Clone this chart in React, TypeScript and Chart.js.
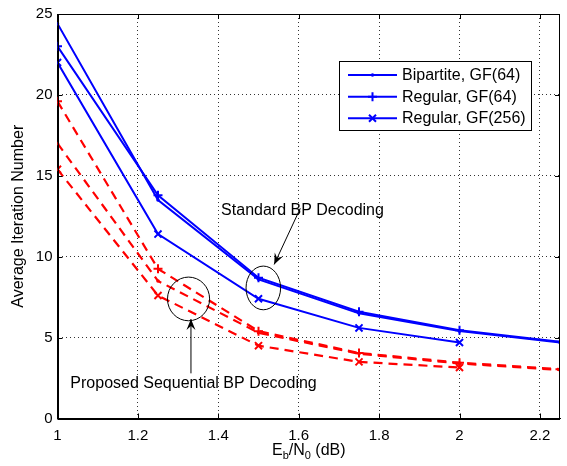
import React, { useEffect, useRef } from "react";
import { Chart, registerables } from "chart.js";

Chart.register(...registerables);

// ---- data ----
const snr = [1, 1.25, 1.5, 1.75, 2, 2.25];
const snrTicks = [1, 1.2, 1.4, 1.6, 1.8, 2, 2.2];
const iterTicks = [0, 5, 10, 15, 20, 25];

const stdBipartite64 = [24.4, 13.5, 8.6, 6.5, 5.4, 4.7];
const stdRegular64 = [23.0, 13.8, 8.7, 6.6, 5.45, 4.75];
const stdRegular256 = [22.0, 11.4, 7.4, 5.6, 4.7];

const seqBipartite64 = [17.0, 8.5, 5.3, 4.0, 3.4, 3.0];
const seqRegular64 = [19.6, 9.25, 5.4, 4.05, 3.45, 3.05];
const seqRegular256 = [15.4, 7.6, 4.5, 3.5, 3.15];

const legendLabels = ["Bipartite, GF(64)", "Regular, GF(64)", "Regular, GF(256)"];
const standardLabel = "Standard BP Decoding";
const proposedLabel = "Proposed Sequential BP Decoding";
const yTitle = "Average Iteration Number";

const FONT = "'Liberation Sans', Arial, Helvetica, sans-serif";
const BLUE = "#0000ff";
const RED = "#ff0000";

const pts = (arr: number[]) => arr.map((y, i) => ({ x: snr[i], y }));

function drawMarker(ctx: CanvasRenderingContext2D, style: string, x: number, y: number, color: string) {
  ctx.save();
  ctx.strokeStyle = color;
  ctx.fillStyle = color;
  ctx.lineWidth = 2;
  ctx.beginPath();
  if (style === "cross") {
    ctx.moveTo(x - 4.5, y);
    ctx.lineTo(x + 4.5, y);
    ctx.moveTo(x, y - 4.5);
    ctx.lineTo(x, y + 4.5);
    ctx.stroke();
  } else if (style === "crossRot") {
    const d = 3.5;
    ctx.moveTo(x - d, y - d);
    ctx.lineTo(x + d, y + d);
    ctx.moveTo(x - d, y + d);
    ctx.lineTo(x + d, y - d);
    ctx.stroke();
  } else {
    ctx.arc(x, y, 1.8, 0, Math.PI * 2);
    ctx.fill();
  }
  ctx.restore();
}

function arrow(ctx: CanvasRenderingContext2D, x1: number, y1: number, x2: number, y2: number) {
  ctx.beginPath();
  ctx.moveTo(x1, y1);
  ctx.lineTo(x2, y2);
  ctx.stroke();
  const ang = Math.atan2(y2 - y1, x2 - x1);
  const L = 11, W = 4.5, notch = 7;
  const bx = x2 - Math.cos(ang) * L, by = y2 - Math.sin(ang) * L;
  const nx = x2 - Math.cos(ang) * notch, ny = y2 - Math.sin(ang) * notch;
  const px = -Math.sin(ang), py = Math.cos(ang);
  ctx.beginPath();
  ctx.moveTo(x2, y2);
  ctx.lineTo(bx + px * W, by + py * W);
  ctx.lineTo(nx, ny);
  ctx.lineTo(bx - px * W, by - py * W);
  ctx.closePath();
  ctx.fill();
}

const decorPlugin = {
  id: "decor",
  afterDraw(chart: any) {
    const { ctx, chartArea: a, scales } = chart;
    const xs = scales.x, ys = scales.y;
    const X = (v: number) => xs.getPixelForValue(v);
    const Y = (v: number) => ys.getPixelForValue(v);
    ctx.save();
    ctx.strokeStyle = "#000";
    ctx.fillStyle = "#000";
    ctx.lineWidth = 1;

    // inner ticks
    ctx.beginPath();
    snrTicks.forEach((v) => {
      const p = Math.round(X(v)) + 0.5;
      ctx.moveTo(p, a.bottom);
      ctx.lineTo(p, a.bottom - 5);
      ctx.moveTo(p, a.top);
      ctx.lineTo(p, a.top + 5);
    });
    iterTicks.forEach((v) => {
      const p = Math.round(Y(v)) + 0.5;
      ctx.moveTo(a.left, p);
      ctx.lineTo(a.left + 5, p);
      ctx.moveTo(a.right, p);
      ctx.lineTo(a.right - 5, p);
    });
    ctx.stroke();

    // box
    const l = Math.round(a.left) + 0.5, t = Math.round(a.top) + 0.5;
    const r = Math.round(a.right) - 0.5, b = Math.round(a.bottom) + 0.5;
    ctx.strokeRect(l, t, r - l, b - t);

    // ellipses
    ctx.beginPath();
    ctx.ellipse(X(1.326), Y(7.39), X(1.326 + 0.0524) - X(1.326), Y(7.39) - Y(7.39 + 1.35), 0, 0, Math.PI * 2);
    ctx.stroke();
    ctx.beginPath();
    ctx.ellipse(X(1.512), Y(8.07), X(1.512 + 0.043) - X(1.512), Y(8.07) - Y(8.07 + 1.35), 0, 0, Math.PI * 2);
    ctx.stroke();

    // arrows
    arrow(ctx, X(1.332), Y(2.79), X(1.332), Y(6.15));
    arrow(ctx, X(1.604), Y(12.99), X(1.539), Y(9.52));

    // annotation texts
    ctx.font = `16px ${FONT}`;
    ctx.textBaseline = "middle";
    ctx.textAlign = "left";
    ctx.fillText(standardLabel, X(1.407), Y(12.83));
    ctx.fillText(proposedLabel, X(1.032), Y(2.18));

    // legend
    const lx = 339.5, ly = 61.5, lw = 192, lh = 69;
    ctx.fillStyle = "#fff";
    ctx.fillRect(lx, ly, lw, lh);
    ctx.strokeStyle = "#000";
    ctx.strokeRect(lx, ly, lw, lh);
    const rows = [75, 96.7, 118.3];
    const styles = ["circle", "cross", "crossRot"];
    rows.forEach((ry, i) => {
      ctx.strokeStyle = BLUE;
      ctx.lineWidth = 2;
      ctx.beginPath();
      ctx.moveTo(348, ry);
      ctx.lineTo(397, ry);
      ctx.stroke();
      drawMarker(ctx, styles[i], 372.5, ry, BLUE);
      ctx.fillStyle = "#000";
      ctx.font = `16px ${FONT}`;
      ctx.fillText(legendLabels[i], 402, ry + 0.5);
    });

    // x title  E_b/N_0 (dB)
    const big = `16px ${FONT}`, small = `11px ${FONT}`;
    const parts: [string, boolean][] = [["E", false], ["b", true], ["/N", false], ["0", true], [" (dB)", false]];
    let total = 0;
    parts.forEach(([s, sub]) => {
      ctx.font = sub ? small : big;
      total += ctx.measureText(s).width;
    });
    let cx = (a.left + a.right) / 2 - total / 2;
    const base = 455;
    ctx.textBaseline = "alphabetic";
    ctx.fillStyle = "#000";
    parts.forEach(([s, sub]) => {
      ctx.font = sub ? small : big;
      ctx.fillText(s, cx, sub ? base + 4 : base);
      cx += ctx.measureText(s).width;
    });

    // y title
    ctx.save();
    ctx.translate(19, (a.top + a.bottom) / 2);
    ctx.rotate(-Math.PI / 2);
    ctx.font = big;
    ctx.textAlign = "center";
    ctx.textBaseline = "middle";
    ctx.fillText(yTitle, 0, 0);
    ctx.restore();

    ctx.restore();
  },
};

export default function App() {
  const ref = useRef<HTMLCanvasElement>(null);
  useEffect(() => {
    document.body.style.margin = "0";
    const blueBase = { borderColor: BLUE, backgroundColor: BLUE, pointBorderColor: BLUE, pointBackgroundColor: BLUE, borderWidth: 2, pointBorderWidth: 2, tension: 0, fill: false };
    const redBase = { borderColor: RED, backgroundColor: RED, pointBorderColor: RED, pointBackgroundColor: RED, borderWidth: 2.2, pointBorderWidth: 2, tension: 0, fill: false, borderDash: [9, 6] };
    const chart = new Chart(ref.current as HTMLCanvasElement, {
      type: "line",
      data: {
        datasets: [
          { ...blueBase, label: "Standard Bipartite GF(64)", data: pts(stdBipartite64), pointStyle: "circle", pointRadius: 1.8, pointBorderWidth: 0 },
          { ...blueBase, label: "Standard Regular GF(64)", data: pts(stdRegular64), pointStyle: "cross", pointRadius: 4.5 },
          { ...blueBase, label: "Standard Regular GF(256)", data: pts(stdRegular256), pointStyle: "crossRot", pointRadius: 5 },
          { ...redBase, label: "Sequential Bipartite GF(64)", data: pts(seqBipartite64), pointStyle: "circle", pointRadius: 1.8, pointBorderWidth: 0 },
          { ...redBase, label: "Sequential Regular GF(64)", data: pts(seqRegular64), pointStyle: "cross", pointRadius: 4.5 },
          { ...redBase, label: "Sequential Regular GF(256)", data: pts(seqRegular256), pointStyle: "crossRot", pointRadius: 5 },
        ] as any,
      },
      options: {
        animation: false,
        responsive: false,
        events: [],
        layout: { padding: { left: 0, top: 11, right: 1, bottom: 0 } },
        plugins: { legend: { display: false }, tooltip: { enabled: false }, title: { display: false } },
        scales: {
          x: {
            type: "linear",
            min: 1,
            max: 2.25,
            afterBuildTicks: (s: any) => { s.ticks = snrTicks.map((v) => ({ value: v })); },
            afterFit: (s: any) => { s.height = 47.5; },
            ticks: {
              padding: 8,
              color: "#000",
              font: { family: FONT, size: 15 },
              maxRotation: 0,
              callback: (v: any) => String(Math.round(Number(v) * 10) / 10),
            },
            grid: { color: "rgba(0,0,0,0.8)", lineWidth: 1, drawTicks: false },
            border: { display: true, color: "#000", width: 1, dash: [1, 3] },
            title: { display: false },
          },
          y: {
            type: "linear",
            min: 0,
            max: 25,
            afterBuildTicks: (s: any) => { s.ticks = iterTicks.map((v) => ({ value: v })); },
            afterFit: (s: any) => { s.width = 57.5; },
            ticks: {
              padding: 5,
              color: "#000",
              font: { family: FONT, size: 15 },
              callback: (v: any) => String(v),
            },
            grid: { color: "rgba(0,0,0,0.8)", lineWidth: 1, drawTicks: false },
            border: { display: true, color: "#000", width: 1, dash: [1, 3] },
            title: { display: false },
          },
        },
      },
      plugins: [decorPlugin],
    });
    return () => chart.destroy();
  }, []);
  return (
    <div style={{ width: 567, height: 466, position: "relative", background: "#fff" }}>
      <canvas ref={ref} width={567} height={466} style={{ width: 567, height: 466, display: "block" }} />
    </div>
  );
}
